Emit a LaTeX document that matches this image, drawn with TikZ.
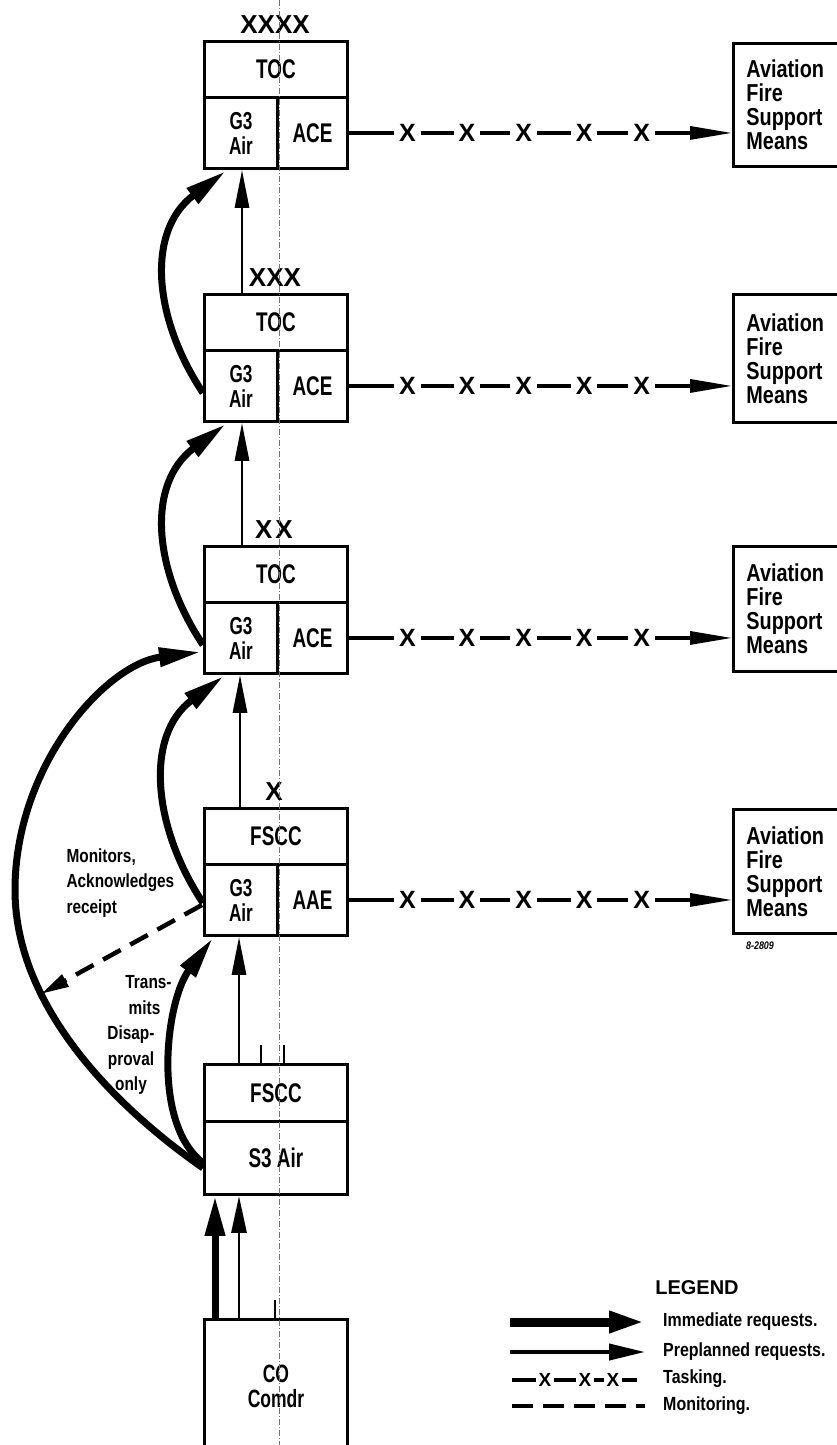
\documentclass[tikz,border=0pt]{standalone}
\usepackage{fontspec}
\setmainfont{Liberation Sans}[FakeStretch=0.81,UprightFont=*-Bold]
\newfontfamily\boxfont{Liberation Sans}[FakeStretch=0.7,UprightFont=*-Bold]
\newfontfamily\legfont{Liberation Sans}[FakeStretch=0.84,UprightFont=*-Bold]
\newfontfamily\xfont{Liberation Sans}[UprightFont=*-Bold]
\usetikzlibrary{arrows.meta,calc}
\newcommand\setfs[2]{\fontsize{#1}{#2}\selectfont}
\begin{document}
\begin{tikzpicture}[x=1pt,y=-1pt,
  box/.style={draw,line width=2.9pt,inner sep=0pt,align=center,font=\boxfont\setfs{27}{27}},
  gbox/.style={box,font=\boxfont\setfs{24.5}{25}},
  fsm/.style={draw,line width=2.9pt,anchor=north west,text width=95pt,inner xsep=13pt,align=left,font=\setfs{24.5}{24}},
  ech/.style={font=\xfont\setfs{26}{26}},
  thinar/.style={line width=2.9pt,-{Triangle[length=38pt,width=14pt]}},
  thickar/.style={line width=7pt,-{Triangle[length=42pt,width=18pt]}},
  task/.style={line width=3.2pt,-{Triangle[length=42pt,width=13pt]}},
  xm/.style={fill=white,inner xsep=5pt,inner ysep=1pt,font=\xfont\setfs{25}{25}},
  xms/.style={fill=white,inner xsep=3pt,inner ysep=1pt,font=\xfont\setfs{19}{19}},
  lab/.style={font=\setfs{19}{25.5}},
  legtxt/.style={anchor=west,inner sep=0pt,font=\legfont\setfs{19}{19}},
  mondash/.style={line width=4.5pt,dash pattern=on 20pt off 11pt,-{Triangle[length=28pt,width=13pt]}}
]
\useasboundingbox (0,0) rectangle (837,1445);
\clip (0,0) rectangle (837,1445);

% ---- command boxes ----
% box 1
\node[box,anchor=north west,minimum width=143pt,minimum height=56pt] (t1) at (203,40) {TOC};
\node[gbox,anchor=north west,minimum width=73pt,minimum height=71pt] (g1) at (203,96) {G3\\Air};
\node[box,anchor=north west,minimum width=70pt,minimum height=71pt] (a1) at (276,96) {ACE};
\node[ech] (e1) at (275,25) {XXXX};
% box 2
\node[box,anchor=north west,minimum width=143pt,minimum height=56pt] (t2) at (203,293) {TOC};
\node[gbox,anchor=north west,minimum width=73pt,minimum height=71pt] (g2) at (203,349) {G3\\Air};
\node[box,anchor=north west,minimum width=70pt,minimum height=71pt] (a2) at (276,349) {ACE};
\node[ech] (e2) at (275,278) {XXX};
% box 3
\node[box,anchor=north west,minimum width=143pt,minimum height=56pt] (t3) at (203,545) {TOC};
\node[gbox,anchor=north west,minimum width=73pt,minimum height=71pt] (g3) at (203,601) {G3\\Air};
\node[box,anchor=north west,minimum width=70pt,minimum height=71pt] (a3) at (276,601) {ACE};
\node[ech] (e3) at (274,530) {X\hspace{3pt}X};
% box 4
\node[box,anchor=north west,minimum width=143pt,minimum height=56pt] (t4) at (203,807) {FSCC};
\node[gbox,anchor=north west,minimum width=73pt,minimum height=71pt] (g4) at (203,863) {G3\\Air};
\node[box,anchor=north west,minimum width=70pt,minimum height=71pt] (a4) at (276,863) {AAE};
\node[ech] (e4) at (274,792) {X};
% box 5
\node[box,anchor=north west,minimum width=143pt,minimum height=57pt] (t5) at (203,1063) {FSCC};
\node[box,anchor=north west,minimum width=143pt,minimum height=73pt] (s5) at (203,1120) {S3 Air};
\draw[line width=2.4pt] ($(t5.north west)+(58,0)$) -- +(0,-18);
\draw[line width=2.4pt] ($(t5.north west)+(81,0)$) -- +(0,-18);
% box 6
\node[box,anchor=north west,minimum width=143pt,minimum height=134pt,font=\boxfont\setfs{25}{25.5}] (c6) at (203,1318) {CO\\Comdr};
\draw[line width=2.4pt] ($(c6.north west)+(72,0)$) -- +(0,-18);

% ---- aviation fire support means ----
\node[fsm,minimum height=123pt] (f1) at (732,42) {Aviation\\Fire\\Support\\Means};
\node[fsm,minimum height=128pt] (f2) at (732,293) {Aviation\\Fire\\Support\\Means};
\node[fsm,minimum height=125pt] (f3) at (732,545) {Aviation\\Fire\\Support\\Means};
\node[fsm,minimum height=124pt] (f4) at (732,808) {Aviation\\Fire\\Support\\Means};
\node[font=\itshape\setfs{11}{11}] (code) at (760,946) {8-2809};

% ---- tasking ----
\foreach \i in {1,2,3,4}{
  \draw[task] (a\i.east) -- (a\i.east -| f\i.west)
    node[xm,pos=.153]{X} node[xm,pos=.308]{X} node[xm,pos=.456]{X}
    node[xm,pos=.614]{X} node[xm,pos=.764]{X};
}

% ---- preplanned requests (straight) ----
\draw[thinar] ($(t2.north west)+(39,0)$) -- ($(g1.south west)+(39,0)$);
\draw[thinar] ($(t3.north west)+(39,0)$) -- ($(g2.south west)+(39,0)$);
\draw[thinar] ($(t4.north west)+(37,0)$) -- ($(g3.south west)+(37,0)$);
\draw[thinar] ($(t5.north west)+(36,0)$) -- ($(g4.south west)+(36,0)$);
\draw[line width=2.9pt,-{Triangle[length=37pt,width=15pt]}] ($(c6.north west)+(36,0)$) -- ($(s5.south west)+(36,0)$);

% ---- immediate requests (curved) ----
\draw[thickar] ($(g2.south west)+(0,-30)$) .. controls +(-50,-75) and +(-80,60) .. ($(g1.south west)+(23,1)$);
\draw[thickar] ($(g3.south west)+(0,-30)$) .. controls +(-50,-75) and +(-80,60) .. ($(g2.south west)+(23,1)$);
\draw[thickar] ($(g4.south west)+(0,-34)$) .. controls +(-50,-75) and +(-80,60) .. ($(g3.south west)+(21,1)$);
\draw[thickar] ($(s5.south west)+(0,-33)$) .. controls +(-52,-40) and +(-47,63) .. ($(g4.south west)+(10,1)$);
\draw[line width=7pt,-{Triangle[length=40pt,width=19pt]}] ($(c6.north west)+(12,0)$) -- ($(s5.south west)+(12,0)$);
\coordinate (bl) at (15,890);
\draw[thickar] ($(s5.south west)+(0,-28)$) .. controls +(-82,-57) and +(0,120) .. (bl)
   .. controls +(0,-125) and +(-95,12) .. ($(g3.west)+(-2,14)$);

% ---- monitoring ----
\coordinate (m) at (41,994);
\draw[mondash] ($(g4.west)+(-1,5)$) -- (m);

% ---- labels ----
\node[lab,anchor=west,align=left] (mon) at (63,883) {Monitors,\\Acknowledges\\receipt};
\node[lab,align=center] (trans) at (131,1035) {\hspace*{35pt}Trans-\\\hspace*{27pt}mits\\Disap-\\proval\\only};

% ---- legend ----
\node[font=\xfont\setfs{20}{20}] (leg) at (697,1288) {LEGEND};
\coordinate (l1a) at (510,1322); \coordinate (l1b) at (645,1322);
\coordinate (l2a) at (510,1352); \coordinate (l2b) at (645,1352);
\coordinate (l3a) at (512,1380); \coordinate (l3b) at (637,1380);
\coordinate (l4a) at (512,1406); \coordinate (l4b) at (645,1406);
\draw[line width=9pt,-{Triangle[length=36pt,width=20pt]}] (l1a) -- (l1b);
\draw[line width=4pt,-{Triangle[length=36pt,width=16pt]}] (l2a) -- (l2b);
\draw[line width=4.5pt] (l3a) -- (l3b) node[xms,pos=.264]{X} node[xms,pos=.584]{X} node[xms,pos=.808]{X};
\draw[line width=4.5pt,dash pattern=on 21pt off 10pt] (l4a) -- (l4b);
\node[legtxt] (lt1) at (663,1322) {Immediate requests.};
\node[legtxt] (lt2) at (663,1352) {Preplanned requests.};
\node[legtxt] (lt3) at (663,1379) {Tasking.};
\node[legtxt] (lt4) at (663,1406) {Monitoring.};

% ---- fold line ----
\coordinate (fa) at (279,0); \coordinate (fb) at (279,1445);
\draw[black!55,line width=0.6pt,dash pattern=on 6pt off 2pt on 1pt off 2pt] (fa) -- (fb);
\end{tikzpicture}
\end{document}
